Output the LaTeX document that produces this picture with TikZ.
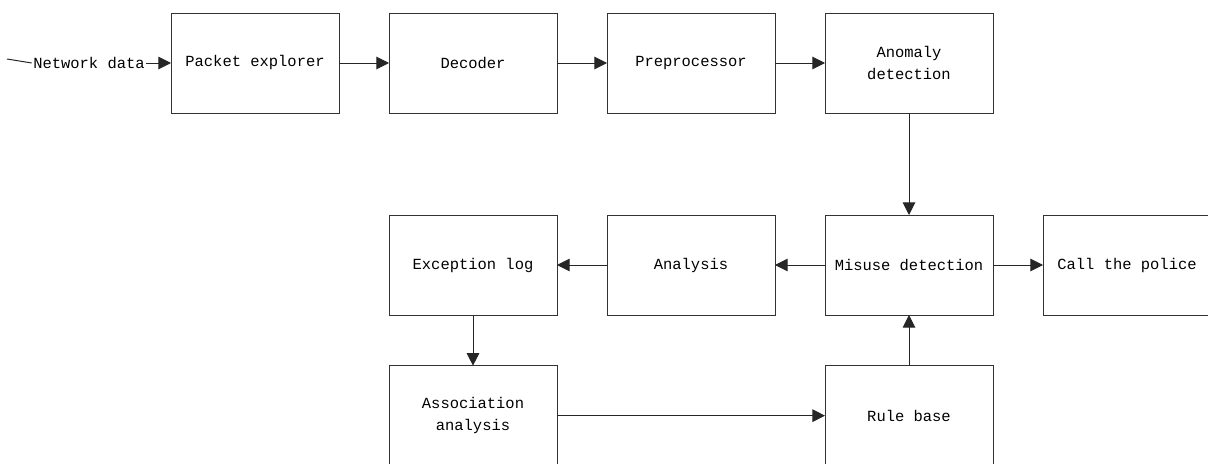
\documentclass[tikz,border=0pt]{standalone}
\usepackage{fontspec}
\setmainfont{Liberation Mono}
\usetikzlibrary{arrows.meta, positioning}
\tikzset{
  stagebox/.style={
    rectangle, draw=black!80, line width=0.75pt,
    minimum width=126pt, minimum height=75pt, inner sep=0pt, outer sep=0pt,
    align=center, font=\fontsize{11.6pt}{16.5pt}\selectfont},
  arrow/.style={-{Triangle[length=9.5pt, width=9.5pt]}, line width=0.75pt,
                color=black!85}
}

\begin{document}
\begin{tikzpicture}[x=0.75pt, y=-0.75pt, node distance=76.5pt and 37.5pt]
  \useasboundingbox (0,0) rectangle (1208,464);

  %% Row 1: capture chain
  \node[stagebox] (pkt) at (255,63) {Packet explorer};
  \node[stagebox, right=of pkt] (dec) {Decoder};
  \node[stagebox, right=of dec] (pre) {Preprocessor};
  \node[stagebox, right=of pre] (anom) {Anomaly\\detection};

  %% input label
  \coordinate (src) at (7,59);
  \node[inner sep=1pt, font=\fontsize{11.6pt}{16.5pt}\selectfont]
    (netlab) at (89,63) {Network data};

  %% Row 2: detection and logging
  \node[stagebox, below=of anom] (misuse) {Misuse detection};
  \node[stagebox, left=of misuse] (ana) {Analysis};
  \node[stagebox, left=of ana] (exlog) {Exception log};
  \node[stagebox, right=of misuse] (police) {Call the police};

  %% Row 3: rules
  \node[stagebox, below=38pt of exlog] (assoc) {Association\\analysis};
  \node[stagebox, below=38pt of misuse] (rule) {Rule base};

  %% Arrows
  \draw[line width=0.75pt, black!85] (src) -- (netlab.west);
  \draw[arrow] (netlab) -- (pkt);
  \draw[arrow] (pkt) -- (dec);
  \draw[arrow] (dec) -- (pre);
  \draw[arrow] (pre) -- (anom);
  \draw[arrow] (anom) -- (misuse);
  \draw[arrow] (misuse) -- (ana);
  \draw[arrow] (ana) -- (exlog);
  \draw[arrow] (misuse) -- (police);
  \draw[arrow] (exlog) -- (assoc);
  \draw[arrow] (assoc) -- (rule);
  \draw[arrow] (rule) -- (misuse);

\end{tikzpicture}
\end{document}
